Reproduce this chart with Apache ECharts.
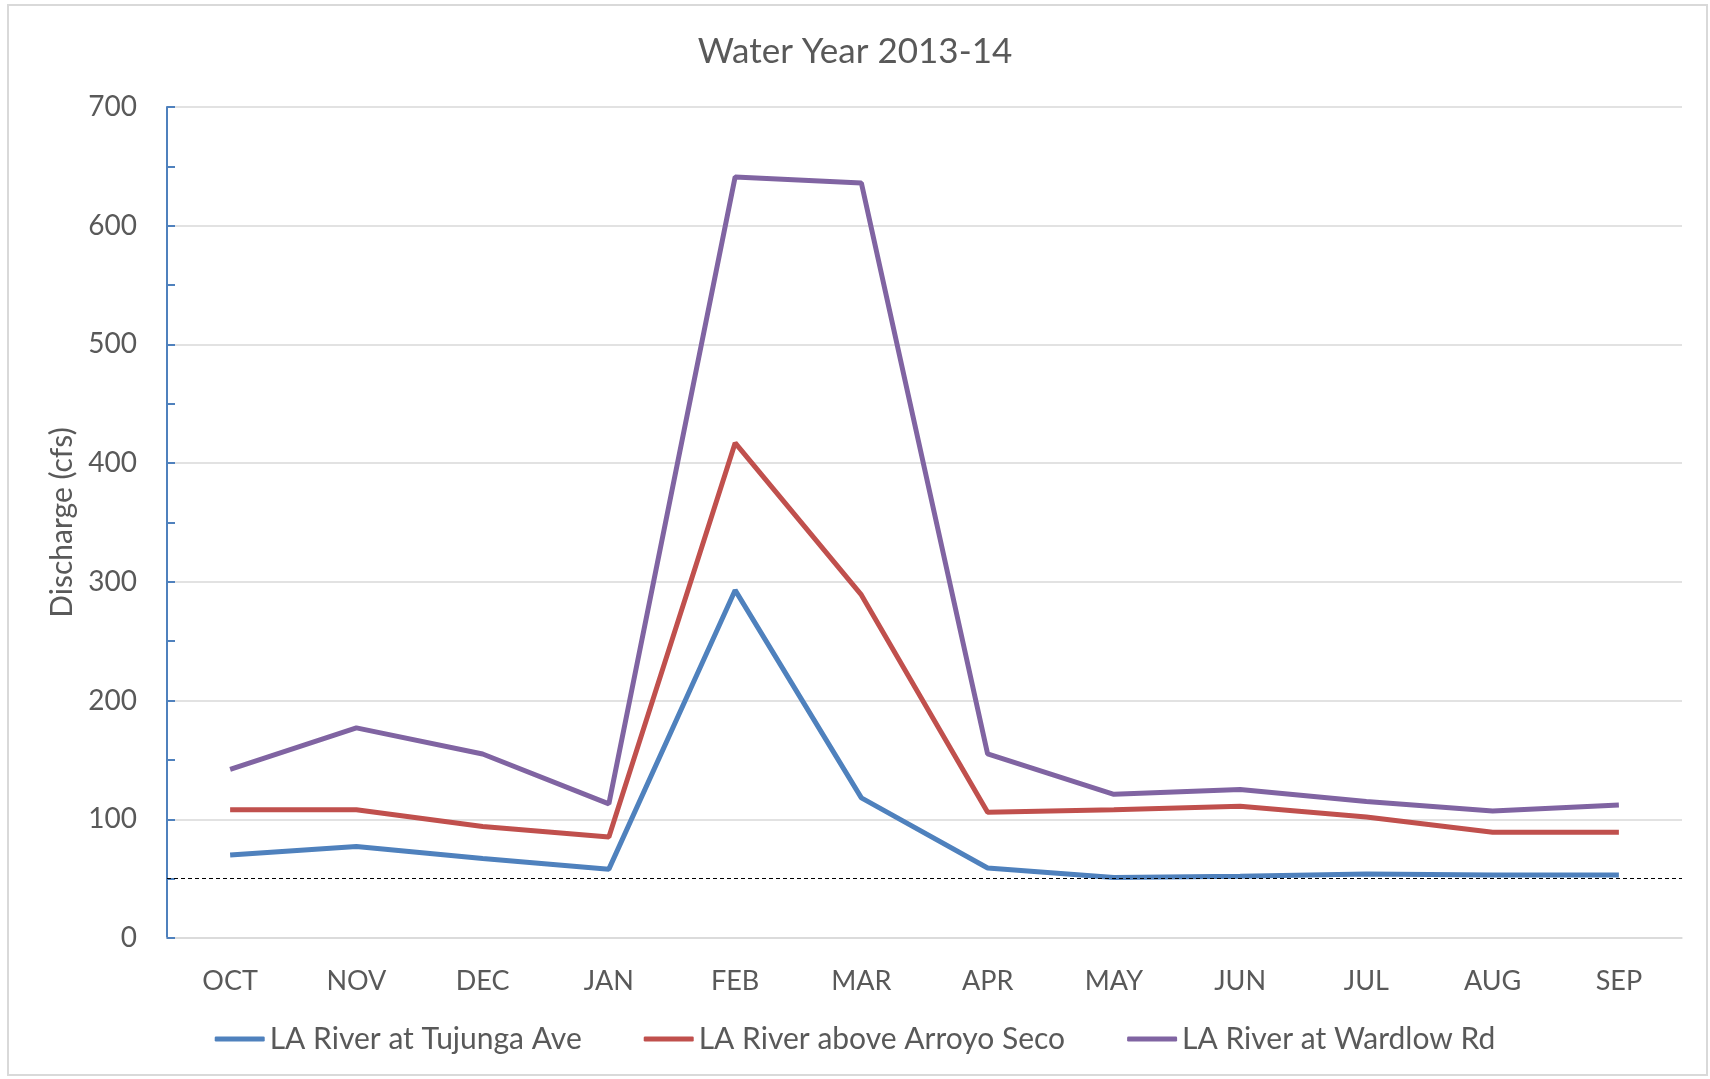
<!DOCTYPE html>
<html>
<head>
    <meta charset="utf-8">
    <title>Water Year 2013-14</title>
    <style>
        html,body{width:100%;height:100%;margin:0;padding:0;overflow:hidden;background:#fff;}
        #main{width:1710px;height:1079px;}
    </style>
    <script src="https://cdn.jsdelivr.net/npm/echarts@6/dist/echarts.min.js"></script>
</head>
<body>
<div id="main"></div>
<script type="text/javascript">
    // months of the water year
    var months = ['OCT','NOV','DEC','JAN','FEB','MAR','APR','MAY','JUN','JUL','AUG','SEP'];
    // monthly discharge (cfs)
    var tujunga = [70, 77, 67, 58, 293, 118, 59, 51, 52, 54, 53, 53];
    var arroyoSeco = [108, 108, 94, 85, 417, 289, 106, 108, 111, 102, 89, 89];
    var wardlow = [142, 177, 155, 113, 641, 636, 155, 121, 125, 115, 107, 112];
    var seriesNames = ['LA River at Tujunga Ave', 'LA River above Arroyo Seco', 'LA River at Wardlow Rd'];
    var refLevel = 50;

    var font = 'Lato, "Open Sans", sans-serif';
    var textColor = '#595959';

    var myChart = echarts.init(document.getElementById('main'));

    function lineSeries(name, data, color) {
        return {
            name: name,
            type: 'line',
            data: data,
            symbol: 'none',
            lineStyle: {color: color, width: 5},
            itemStyle: {color: color}
        };
    }

    var s1 = lineSeries(seriesNames[0], tujunga, '#4F81BD');
    // dashed reference line at 50 cfs
    s1.markLine = {
        silent: true,
        symbol: 'none',
        label: {show: false},
        lineStyle: {color: '#000', type: [4, 3], width: 1.2},
        data: [{yAxis: refLevel}]
    };

    var option = {
        animation: false,
        textStyle: {fontFamily: font},
        title: {
            text: 'Water Year 2013-14',
            left: 'center',
            top: 29,
            textStyle: {fontFamily: font, fontSize: 35, fontWeight: 'normal', color: textColor}
        },
        graphic: [{
            type: 'rect',
            shape: {x: 8, y: 5, width: 1699, height: 1070},
            style: {fill: 'none', stroke: '#D9D9D9', lineWidth: 2},
            silent: true
        }],
        legend: {
            bottom: 20,
            left: 'center',
            itemGap: 62,
            itemWidth: 50,
            itemHeight: 5,
            icon: 'roundRect',
            textStyle: {fontFamily: font, fontSize: 30, color: textColor},
            data: seriesNames
        },
        grid: {left: 167, right: 28, top: 107, bottom: 141},
        xAxis: {
            type: 'category',
            data: months,
            boundaryGap: true,
            axisLine: {lineStyle: {color: '#D9D9D9', width: 1.5}},
            axisTick: {show: false},
            axisLabel: {fontFamily: font, fontSize: 27, color: textColor, margin: 30}
        },
        yAxis: {
            type: 'value',
            min: 0,
            max: 700,
            interval: 100,
            name: 'Discharge (cfs)',
            nameLocation: 'middle',
            nameGap: 90,
            nameTextStyle: {fontFamily: font, fontSize: 30, color: textColor},
            axisLine: {show: true, lineStyle: {color: '#4F81BD', width: 2}},
            axisTick: {show: true, inside: true, length: 8, lineStyle: {color: '#4F81BD', width: 2}},
            minorTick: {show: true, splitNumber: 2, length: 8, lineStyle: {color: '#4F81BD', width: 2}},
            axisLabel: {fontFamily: font, fontSize: 28, color: textColor, margin: 30},
            splitLine: {lineStyle: {color: '#D9D9D9', width: 1.5}}
        },
        series: [
            s1,
            lineSeries(seriesNames[1], arroyoSeco, '#C0504D'),
            lineSeries(seriesNames[2], wardlow, '#8064A2')
        ]
    };

    myChart.setOption(option);
</script>
</body>
</html>
